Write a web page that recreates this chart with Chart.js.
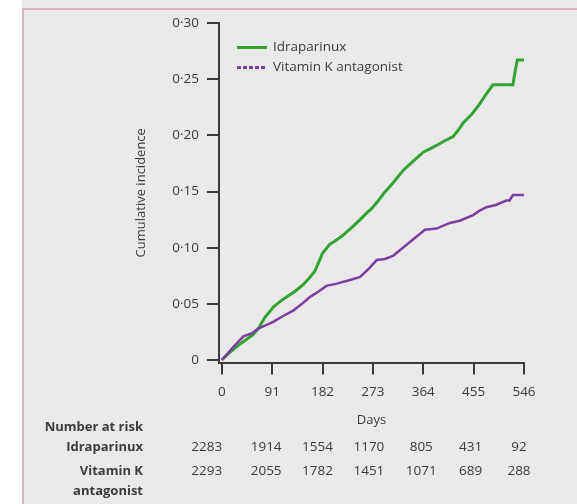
<!DOCTYPE html>
<html>
<head>
<meta charset="utf-8">
<script src="https://cdn.jsdelivr.net/npm/chart.js@4.4.1/dist/chart.umd.min.js"></script>
<style>
  body { margin: 0; background: #fff; }
  #wrap { position: relative; width: 577px; height: 504px; overflow: hidden; }
  #panel { position: absolute; left: 22px; top: 0; right: 0; bottom: 0; background: #e9e9e9; }
  #frame { position: absolute; left: 22px; top: 8px; right: 0; bottom: 0;
           border-top: 2px solid #dcb2c0; border-left: 2px solid #dcb2c0; }
  #chart { position: absolute; left: 0; top: 0; }
</style>
</head>
<body>
<div id="wrap">
  <div id="panel"></div>
  <div id="frame"></div>
  <canvas id="chart" width="577" height="504"></canvas>
</div>
<script>
const dayTicks = [0, 91, 182, 273, 364, 455, 546];
const incidenceTicks = [0, 0.05, 0.10, 0.15, 0.20, 0.25, 0.30];

const idraDays = [0, 15, 35, 55, 66, 78, 93, 105, 117, 132, 147, 160, 168, 176, 182, 195, 208, 219, 235, 250, 262, 271, 283, 292, 310, 328, 346, 364, 376, 388, 402, 418, 428, 436, 452, 466, 478, 490, 526, 530, 534, 546];
const idraValues = [0, 0.007, 0.015, 0.022, 0.028, 0.038, 0.047, 0.052, 0.056, 0.061, 0.067, 0.074, 0.079, 0.088, 0.095, 0.103, 0.107, 0.111, 0.118, 0.125, 0.131, 0.135, 0.142, 0.148, 0.158, 0.169, 0.177, 0.185, 0.188, 0.191, 0.195, 0.199, 0.205, 0.211, 0.219, 0.228, 0.237, 0.245, 0.245, 0.257, 0.267, 0.267];

const vkaDays = [0, 20, 39, 55, 66, 80, 93, 110, 129, 145, 159, 175, 189, 208, 230, 250, 265, 280, 295, 310, 325, 340, 355, 367, 388, 412, 430, 454, 466, 478, 495, 514, 520, 526, 546];
const vkaValues = [0, 0.011, 0.021, 0.024, 0.028, 0.031, 0.034, 0.039, 0.044, 0.050, 0.056, 0.061, 0.066, 0.068, 0.071, 0.074, 0.081, 0.089, 0.090, 0.093, 0.099, 0.105, 0.111, 0.116, 0.117, 0.122, 0.124, 0.129, 0.133, 0.136, 0.138, 0.142, 0.142, 0.147, 0.147];

const seriesNames = ['Idraparinux', 'Vitamin K antagonist'];
const riskIdra = [2283, 1914, 1554, 1170, 805, 431, 92];
const riskVka = [2293, 2055, 1782, 1451, 1071, 689, 288];

const textColor = '#3c3c3c';
const axisColor = '#3a3a3a';
const fontFamily = "'Open Sans', 'Noto Sans', sans-serif";

function toPoints(xs, ys) {
    return xs.map((x, i) => ({ x: x, y: ys[i] }));
}

// legend drawn inside the plot area, top left
const insideLegend = {
    id: 'insideLegend',
    afterDatasetsDraw(chart) {
        const ctx = chart.ctx;
        const rows = [47.5, 67.5];
        ctx.save();
        ctx.font = '13.5px ' + fontFamily;
        ctx.textBaseline = 'middle';
        chart.data.datasets.forEach((ds, i) => {
            ctx.strokeStyle = ds.borderColor;
            ctx.lineWidth = 3;
            ctx.setLineDash(i === 1 ? [4, 2] : []);
            ctx.beginPath();
            ctx.moveTo(237, rows[i]);
            ctx.lineTo(267, rows[i]);
            ctx.stroke();
            ctx.setLineDash([]);
            ctx.fillStyle = textColor;
            ctx.fillText(ds.label, 273, rows[i]);
        });
        ctx.restore();
    }
};

// number at risk table under the x axis
const riskTable = {
    id: 'riskTable',
    afterDraw(chart) {
        const ctx = chart.ctx;
        const xs = chart.scales.x;
        const shift = [-15, -6, -5, -4, -2, -3, -5];
        ctx.save();
        ctx.fillStyle = textColor;
        ctx.textBaseline = 'middle';
        ctx.font = 'bold 13px ' + fontFamily;
        ctx.textAlign = 'right';
        ctx.fillText('Number at risk', 143, 427);
        ctx.fillText('Idraparinux', 143, 447);
        ctx.fillText('Vitamin K', 143, 471);
        ctx.fillText('antagonist', 143, 491);
        ctx.font = '13.5px ' + fontFamily;
        ctx.textAlign = 'center';
        dayTicks.forEach((d, i) => {
            const px = xs.getPixelForValue(d) + shift[i];
            ctx.fillText(String(riskIdra[i]), px, 447);
            ctx.fillText(String(riskVka[i]), px, 471);
        });
        ctx.restore();
    }
};

window.onload = function() {
    const ctx = document.getElementById('chart').getContext('2d');
    new Chart(ctx, {
        type: 'line',
        data: {
            datasets: [{
                label: seriesNames[0],
                data: toPoints(idraDays, idraValues),
                borderColor: '#32a232',
                borderWidth: 3,
                pointRadius: 0,
                tension: 0,
                fill: false,
                order: 1
            }, {
                label: seriesNames[1],
                data: toPoints(vkaDays, vkaValues),
                borderColor: '#7d3f9f',
                borderWidth: 2.5,
                pointRadius: 0,
                tension: 0,
                fill: false,
                order: 0
            }]
        },
        options: {
            responsive: false,
            animation: false,
            layout: { padding: { left: 133, top: 23, right: 53, bottom: 0 } },
            plugins: {
                legend: { display: false },
                tooltip: { enabled: false }
            },
            scales: {
                x: {
                    type: 'linear',
                    min: -5,
                    max: 546,
                    afterBuildTicks: function(scale) {
                        scale.ticks = dayTicks.map(v => ({ value: v }));
                    },
                    afterFit: function(scale) { scale.height = 141.5; },
                    grid: { display: true, drawOnChartArea: false, drawTicks: true, tickLength: 12, color: axisColor, lineWidth: 2 },
                    border: { display: true, color: axisColor, width: 2 },
                    ticks: {
                        padding: 10,
                        color: textColor,
                        font: { family: fontFamily, size: 13.5 },
                        callback: v => String(v)
                    },
                    title: {
                        display: true,
                        text: 'Days',
                        color: textColor,
                        font: { family: fontFamily, size: 13 },
                        padding: { top: 0, bottom: 76 }
                    }
                },
                y: {
                    min: -0.0022,
                    max: 0.30,
                    afterBuildTicks: function(scale) {
                        scale.ticks = incidenceTicks.map(v => ({ value: v }));
                    },
                    afterFit: function(scale) { scale.width = 86; },
                    grid: { display: true, drawOnChartArea: false, drawTicks: true, tickLength: 12, color: axisColor, lineWidth: 2 },
                    border: { display: true, color: axisColor, width: 2 },
                    ticks: {
                        padding: 8,
                        color: textColor,
                        font: { family: fontFamily, size: 13.5 },
                        callback: v => v === 0 ? '0' : v.toFixed(2).replace('.', '\u00b7')
                    },
                    title: {
                        display: true,
                        text: 'Cumulative incidence',
                        color: textColor,
                        font: { family: fontFamily, size: 13 },
                        padding: 0
                    }
                }
            }
        },
        plugins: [insideLegend, riskTable]
    });
};
</script>
</body>
</html>
